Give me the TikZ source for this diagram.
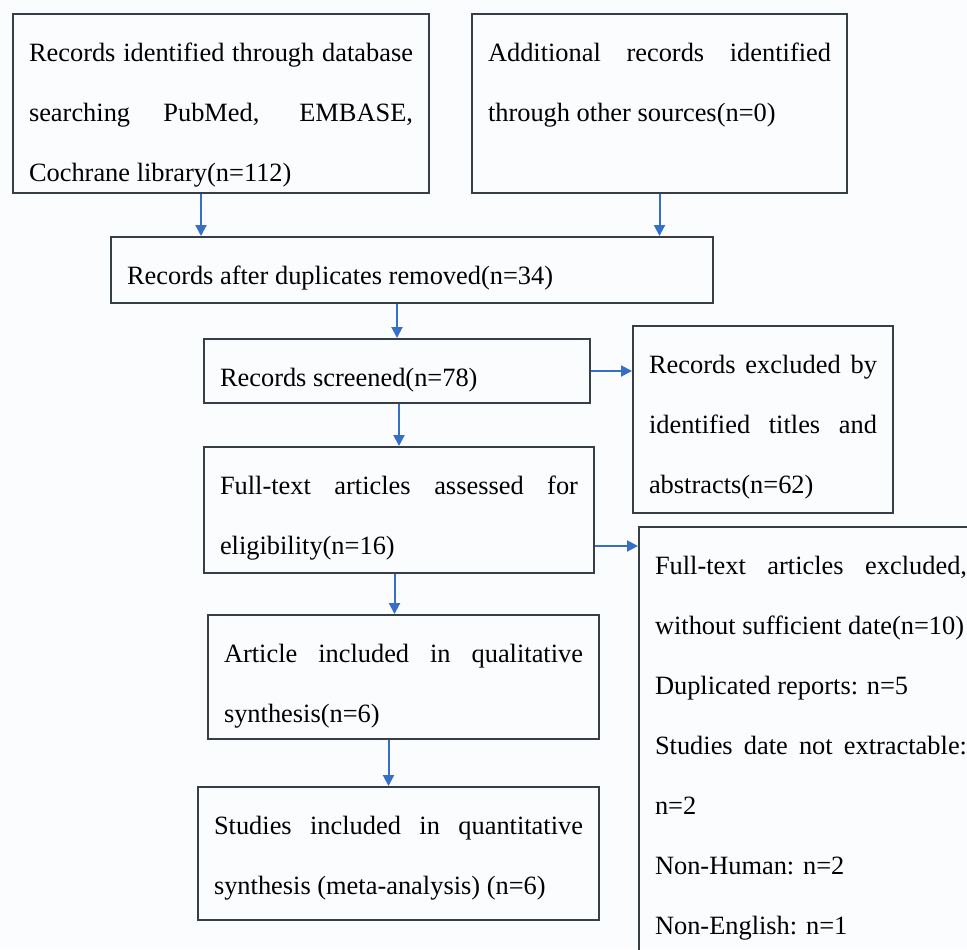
\documentclass[tikz,border=0pt]{standalone}
\usepackage{fontspec}
\setmainfont{Liberation Serif}
\usetikzlibrary{arrows.meta,positioning,calc}
\definecolor{BOX-GREY}{RGB}{55, 62, 70}
\definecolor{ARROW-BLUE}{RGB}{55, 110, 200}
\definecolor{PAGE-WHITE}{RGB}{251, 252, 253}

\tikzset{
  flowbox/.style={draw=BOX-GREY, line width=1pt, anchor=north west,
    inner xsep=8pt, inner ysep=0pt, align=justify, text height=23.5pt,
    font=\fontsize{13.2}{30}\selectfont,
    execute at begin node={\tolerance=9000\relax\hyphenpenalty=10000\relax\exhyphenpenalty=10000\relax}},
  flow/.style={-{Triangle[length=5.5pt,width=5.5pt]}, ARROW-BLUE, line width=1pt}
}

\begin{document}
\begin{tikzpicture}[x=0.5pt,y=-0.5pt]
  \useasboundingbox (0,0) rectangle (967,949);
  \fill[PAGE-WHITE] (0,0) rectangle (967,949);
  \clip (0,0) rectangle (967,949);

  % Identification
  \node[flowbox, text width=192pt, text depth=66pt] (ident) at (12,13)
    {Records identified through database\linebreak searching PubMed, EMBASE,\linebreak Cochrane library(n=112)};
  \node[flowbox, text width=171.5pt, text depth=66pt] (other) at (471,13)
    {Additional records identified\linebreak through other sources(n=0)};

  % Screening
  \node[flowbox, text width=285pt, text depth=9.5pt] (dup) at (110,236)
    {Records after duplicates removed(n=34)};
  \node[flowbox, text width=177pt, text depth=8.5pt] (screen) at (203,338)
    {Records screened(n=78)};
  \node[flowbox, text width=114pt, text depth=70pt] (excl) at (632,325)
    {Records excluded by\linebreak identified titles and\linebreak abstracts(n=62)};

  % Eligibility
  \node[flowbox, text width=179pt, text depth=39.5pt] (full) at (203,446)
    {Full-text articles assessed for\linebreak eligibility(n=16)};
  \node[flowbox, text width=156pt, text depth=196.5pt] (fullex) at (638,526)
    {Full-text articles excluded,\linebreak without sufficient date(n=10)\\
     Duplicated reports: n=5\\
     Studies date not extractable:\linebreak n=2\\
     Non-Human: n=2\\
     Non-English: n=1};

  % Included
  \node[flowbox, text width=179.5pt, text depth=38.5pt] (qual) at (207,614)
    {Article included in qualitative\linebreak synthesis(n=6)};
  \node[flowbox, text width=184.5pt, text depth=43pt] (quant) at (197,786)
    {Studies included in quantitative\linebreak synthesis (meta-analysis) (n=6)};

  % Arrows
  \draw[flow] ([xshift=-10pt]ident.south) -- ([xshift=-10pt]ident.south |- dup.north);
  \draw[flow] (other.south) -- (other.south |- dup.north);
  \draw[flow] (screen.north |- dup.south) -- (screen.north);
  \draw[flow] (screen.east) -- (screen.east -| excl.west);
  \draw[flow] (full.north |- screen.south) -- (full.north);
  \draw[flow] ([yshift=-18pt]full.east) -- ([yshift=-18pt]full.east -| fullex.west);
  \draw[flow] ([xshift=-4.5pt]qual.north |- full.south) -- ([xshift=-4.5pt]qual.north);
  \draw[flow] ([xshift=-5pt]quant.north |- qual.south) -- ([xshift=-5pt]quant.north);
\end{tikzpicture}
\end{document}
